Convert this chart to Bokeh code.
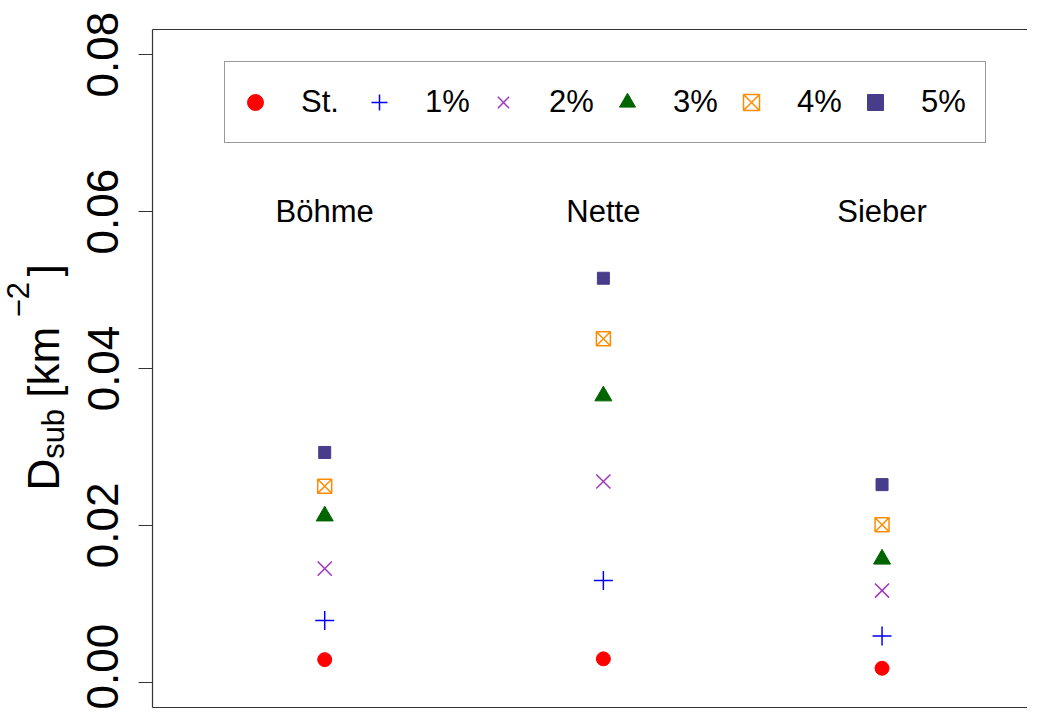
import math
from bokeh.plotting import figure
from bokeh.layouts import row
from bokeh.models import (Range1d, FixedTicker, NumeralTickFormatter, LinearAxis,
                          Legend, LegendItem, ColumnDataSource)
from bokeh.core.properties import value
from bokeh.embed import file_html
from bokeh.resources import INLINE

# ---------------- data ----------------
sites = ["Böhme", "Nette", "Sieber"]
series_names = ["St.", "1%", "2%", "3%", "4%", "5%"]
st_vals = [0.0029, 0.0030, 0.0018]
p1_vals = [0.0079, 0.0130, 0.0059]
p2_vals = [0.0145, 0.0256, 0.0117]
p3_vals = [0.0212, 0.0365, 0.0157]
p4_vals = [0.0250, 0.0438, 0.0201]
p5_vals = [0.0293, 0.0515, 0.0252]
y_ticks = [0.0, 0.02, 0.04, 0.06, 0.08]
site_label_y = 0.06
ylabel_parts = ["D", "sub", "[km", "\u22122", "]"]

# ---------------- styles ----------------
markers = ["circle", "cross", "x", "triangle", "square_x", "square"]
colors = ["#FF0000", "#0000FF", "#A035C0", "#006400", "#FF8C00", "#483D8B"]
sizes = [14, 19, 20, 17, 14, 12]
filled = [True, False, False, True, False, True]

FONT = "Liberation Sans"
AX = "#333333"
H = 709
LW = 74            # width of the y-label strip
MW = 1027 - LW     # width of the main figure

# ---------------- y-axis title strip ----------------
lab = figure(width=LW, height=H, output_backend="svg", toolbar_location=None,
             x_range=Range1d(0, LW), y_range=Range1d(0, H),
             min_border=0, outline_line_color=None,
             background_fill_color="white", border_fill_color="white")
lab.axis.visible = False
lab.grid.visible = False
# text anchor (x, y measured from top, font size) for each piece
piece_x = [43, 53, 43, 17, 43]
piece_y = [482, 449, 385, 301, 258]
piece_fs = ["44px", "31px", "44px", "31px", "44px"]
lab.text(x=piece_x, y=[H - v for v in piece_y], text=ylabel_parts,
         angle=math.pi / 2, text_font=value(FONT), text_font_size=piece_fs,
         text_align="left", text_baseline="alphabetic", text_color="black")

# ---------------- main figure ----------------
p = figure(width=MW, height=H, output_backend="svg", toolbar_location=None,
           x_range=Range1d(0.382, 3.522), y_range=Range1d(-0.0032, 0.0832),
           min_border_left=152 - LW, min_border_right=0, min_border_top=29,
           min_border_bottom=2, outline_line_color=None,
           background_fill_color="white", border_fill_color="white")
p.xgrid.visible = False
p.ygrid.visible = False

yax = p.yaxis[0]
yax.ticker = FixedTicker(ticks=y_ticks)
yax.formatter = NumeralTickFormatter(format="0.00")
yax.major_label_orientation = "vertical"
yax.major_label_text_font = FONT
yax.major_label_text_font_size = "44px"
yax.major_label_text_color = "black"
yax.major_label_standoff = 20
yax.major_tick_out = 14
yax.major_tick_in = 0
yax.minor_tick_line_color = None
yax.axis_line_color = AX
yax.major_tick_line_color = AX
yax.axis_line_width = 1.2
yax.major_tick_line_width = 1.2

xax = p.xaxis[0]
xax.ticker = FixedTicker(ticks=[])
xax.major_tick_line_color = None
xax.minor_tick_line_color = None
xax.major_tick_out = 0
xax.major_label_text_font_size = "0px"
xax.axis_line_color = AX
xax.axis_line_width = 1.2

top = LinearAxis(ticker=FixedTicker(ticks=[]), major_tick_line_color=None,
                 minor_tick_line_color=None, major_tick_out=0,
                 major_label_text_font_size="0px", axis_line_color=AX,
                 axis_line_width=1.2)
p.add_layout(top, "above")

x_pos = [i + 1 for i in range(len(sites))]
all_vals = [st_vals, p1_vals, p2_vals, p3_vals, p4_vals, p5_vals]

items = []
for name, vals, mk, col, sz, fl in zip(series_names, all_vals, markers, colors, sizes, filled):
    src = ColumnDataSource(dict(x=x_pos, y=vals))
    r = p.scatter("x", "y", source=src, marker=mk, size=sz,
                  line_color=col, fill_color=col if fl else None,
                  line_width=1.5 if not fl else 1)
    items.append(LegendItem(label=name, renderers=[r]))

p.text(x=x_pos, y=[site_label_y] * len(sites), text=sites, text_align="center",
       text_baseline="middle", text_font=value(FONT), text_font_size="31px",
       text_color="black")

legend = Legend(items=items, orientation="horizontal", location=(72, 564),
                glyph_width=40, glyph_height=60, label_height=60, label_width=54,
                label_standoff=26, spacing=4, padding=10, margin=0,
                label_text_font=FONT, label_text_font_size="31px",
                label_text_color="black", border_line_color=AX,
                border_line_width=1.2, background_fill_color="white",
                background_fill_alpha=1.0)
p.add_layout(legend, "center")

layout = row(lab, p, spacing=0)
open("out.html", "w").write(file_html(layout, INLINE))
